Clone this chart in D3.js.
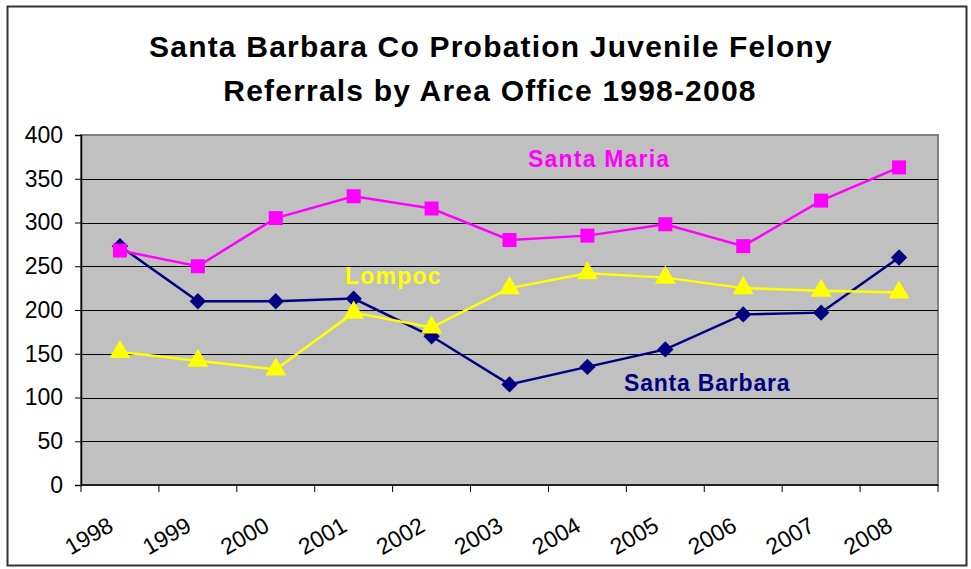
<!DOCTYPE html>
<html>
<head>
<meta charset="utf-8">
<script src="https://cdn.jsdelivr.net/npm/d3@7"></script>
<style>
  body { margin: 0; background: #fff; }
  text { font-family: Arial, "Liberation Sans", sans-serif; }
</style>
</head>
<body>
<div id="chart"></div>
<script>
// data
var years = ["1998", "1999", "2000", "2001", "2002", "2003", "2004", "2005", "2006", "2007", "2008"];
var santaBarbara = [273, 210, 210, 213, 170, 115, 135, 155, 195, 197, 260];
var santaMaria = [268, 250, 305, 330, 316, 280, 285, 298, 273, 325, 363];
var lompoc = [152, 142, 132, 197, 180, 225, 242, 237, 225, 222, 220];
var yTicks = [0, 50, 100, 150, 200, 250, 300, 350, 400];

var W = 971, H = 569;
var margin = {top: 135, right: 33, bottom: 84, left: 81},
    width = W - margin.left - margin.right,
    height = H - margin.top - margin.bottom;

var svg = d3.select("#chart").append("svg")
    .attr("width", W)
    .attr("height", H);

// outer frame
svg.append("rect")
    .attr("x", 7.5).attr("y", 6.5)
    .attr("width", 959).attr("height", 559)
    .attr("fill", "#fff")
    .attr("stroke", "#333")
    .attr("stroke-width", 2);

// title
var title = svg.append("text")
    .attr("text-anchor", "middle")
    .attr("font-weight", "bold")
    .attr("font-size", "30px")
    .attr("letter-spacing", "1.2px")
    .attr("fill", "#000");
title.append("tspan").attr("x", 491).attr("y", 57).text("Santa Barbara Co Probation Juvenile Felony");
title.append("tspan").attr("x", 490).attr("y", 101).text("Referrals by Area Office 1998-2008");

var g = svg.append("g")
    .attr("transform", "translate(" + margin.left + "," + margin.top + ")");

var x = d3.scaleBand().domain(years).range([0, width]);
var y = d3.scaleLinear().domain([0, 400]).range([height, 0]);

// plot background
g.append("rect")
    .attr("width", width).attr("height", height)
    .attr("fill", "#c0c0c0")
    .attr("stroke", "#808080")
    .attr("stroke-width", 2);

// gridlines
g.selectAll(".grid")
    .data(yTicks.filter(function(d) { return d > 0 && d < 400; }))
  .enter().append("line")
    .attr("x1", 0).attr("x2", width)
    .attr("y1", function(d) { return Math.round(y(d)) + 0.5; })
    .attr("y2", function(d) { return Math.round(y(d)) + 0.5; })
    .attr("stroke", "#000")
    .attr("stroke-width", 1);

// y axis
var yAxis = g.append("g")
    .call(d3.axisLeft(y).tickValues(yTicks).tickSize(6).tickPadding(12));
yAxis.select(".domain").attr("stroke", "#000").attr("stroke-width", 1.5);
yAxis.selectAll("text").attr("font-size", "23px").attr("fill", "#000")
    .attr("font-family", "Arial, 'Liberation Sans', sans-serif");

// x axis, ticks on band boundaries
var xAxis = g.append("g")
    .attr("transform", "translate(0," + height + ")");
xAxis.append("line")
    .attr("x1", 0).attr("x2", width)
    .attr("stroke", "#000").attr("stroke-width", 1.5);
xAxis.selectAll(".xt")
    .data(years.concat(["end"]))
  .enter().append("line")
    .attr("x1", function(d, i) { return i * x.bandwidth(); })
    .attr("x2", function(d, i) { return i * x.bandwidth(); })
    .attr("y1", 0).attr("y2", 7)
    .attr("stroke", "#000");
xAxis.selectAll(".xl")
    .data(years)
  .enter().append("text")
    .attr("transform", function(d) {
      return "translate(" + (x(d) + x.bandwidth() / 2 - 5) + ",45) rotate(-30)";
    })
    .attr("text-anchor", "end")
    .attr("font-size", "23px")
    .attr("fill", "#000")
    .text(function(d) { return d; });

var cx = function(d, i) { return x(years[i]) + x.bandwidth() / 2; };
var line = d3.line()
    .x(function(d, i) { return cx(d, i); })
    .y(function(d) { return y(d); });

// Santa Barbara
g.append("path").datum(santaBarbara)
    .attr("d", line).attr("fill", "none")
    .attr("stroke", "#000080").attr("stroke-width", 2.5);
g.selectAll(".sb").data(santaBarbara).enter().append("path")
    .attr("transform", function(d, i) { return "translate(" + cx(d, i) + "," + y(d) + ")"; })
    .attr("d", d3.symbol().type(d3.symbolDiamond2).size(170))
    .attr("fill", "#000080");

// Santa Maria
g.append("path").datum(santaMaria)
    .attr("d", line).attr("fill", "none")
    .attr("stroke", "#ff00ff").attr("stroke-width", 2.5);
g.selectAll(".sm").data(santaMaria).enter().append("rect")
    .attr("x", function(d, i) { return cx(d, i) - 7; })
    .attr("y", function(d) { return y(d) - 7; })
    .attr("width", 14).attr("height", 14)
    .attr("fill", "#ff00ff");

// Lompoc
g.append("path").datum(lompoc)
    .attr("d", line).attr("fill", "none")
    .attr("stroke", "#ffff00").attr("stroke-width", 2.5);
g.selectAll(".lp").data(lompoc).enter().append("path")
    .attr("transform", function(d, i) { return "translate(" + cx(d, i) + "," + y(d) + ")"; })
    .attr("d", d3.symbol().type(d3.symbolTriangle).size(190))
    .attr("fill", "#ffff00");

// series labels
svg.append("text").attr("x", 528).attr("y", 167)
    .attr("font-size", "23px").attr("font-weight", "bold")
    .attr("fill", "#ff00ff").attr("letter-spacing", "1.2px")
    .text("Santa  Maria");
svg.append("text").attr("x", 345).attr("y", 284)
    .attr("font-size", "23px").attr("font-weight", "bold")
    .attr("fill", "#ffff00").attr("letter-spacing", "1.2px")
    .text("Lompoc");
svg.append("text").attr("x", 624).attr("y", 391)
    .attr("font-size", "23px").attr("font-weight", "bold")
    .attr("fill", "#000080").attr("letter-spacing", "0.8px")
    .text("Santa Barbara");
</script>
</body>
</html>
